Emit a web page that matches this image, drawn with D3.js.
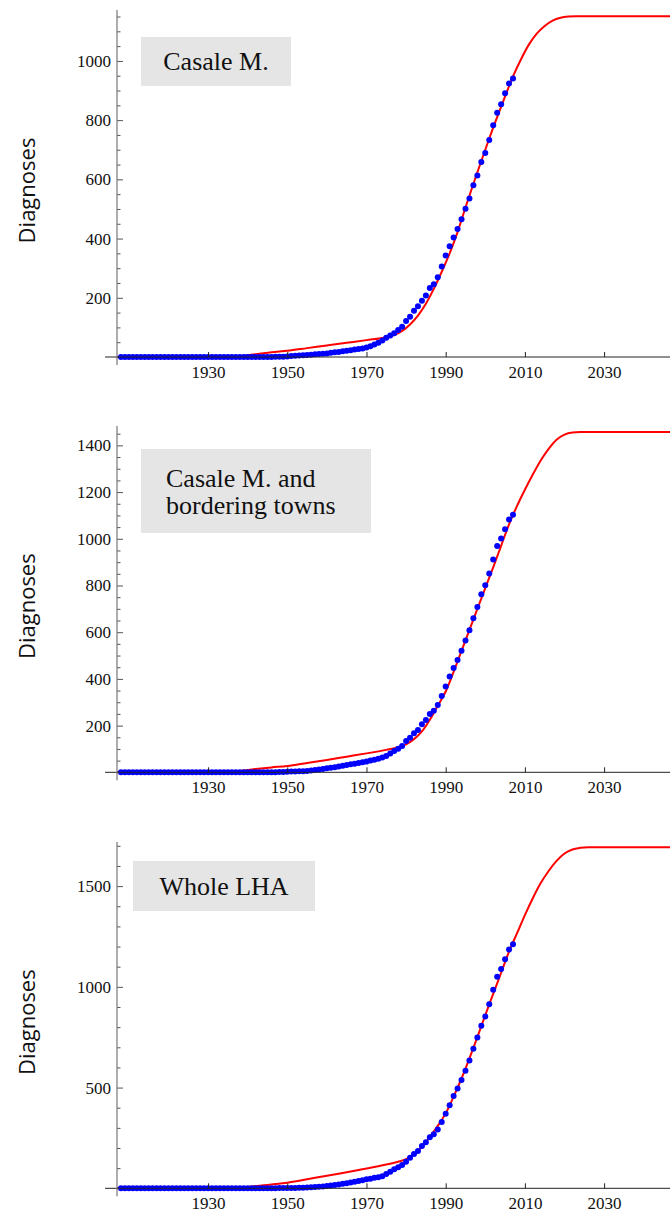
<!DOCTYPE html>
<html>
<head>
<meta charset="utf-8">
<script src="https://cdn.jsdelivr.net/npm/d3@7/dist/d3.min.js"></script>
<style>
  body { margin: 0; background: #fff; }
  svg { display: block; }
  .tick text { font-family: 'Liberation Serif', 'Times New Roman', serif; font-size: 17px; fill: #111; }
  .ylab { font-family: 'Open Sans', sans-serif; font-size: 22px; fill: #111; }
  .plabel { font-family: 'Liberation Serif', 'Times New Roman', serif; font-size: 26px; fill: #111; }
</style>
</head>
<body>
<svg id="chart" width="670" height="1216"></svg>
<script>
const width = 670;
const height = 1216;

// observation years (one dot per year)
const years = d3.range(1908, 2008);
const xTicks = [1930, 1950, 1970, 1990, 2010, 2030];

const panelNames = [
  ['Casale M.'],
  ['Casale M. and', 'bordering towns'],
  ['Whole LHA']
];

// cumulative diagnoses, 1908..2007 (20 per row)
const casaleObs = [
  0, 0, 0, 0, 0, 0, 0, 0, 0, 0, 0, 0, 0, 0, 0, 0, 0, 0, 0, 0,
  0, 0, 0, 0, 0, 0, 0, 0, 0, 0, 0, 0, 0, 0, 0, 0, 0, 0, 0, 1,
  1, 1, 2, 3, 4, 5, 6, 7, 8, 9, 10, 11, 12, 14, 16, 17, 19, 21, 23, 25,
  27, 29, 32, 36, 42, 48, 56, 65, 73, 80, 91, 102, 122, 136, 156, 171, 190, 208, 233, 246,
  269, 306, 343, 374, 404, 432, 465, 501, 535, 580, 613, 659, 689, 733, 783, 825, 854, 891, 924, 941
];
const borderingObs = [
  0, 0, 0, 0, 0, 0, 0, 0, 0, 0, 0, 0, 0, 0, 0, 0, 0, 0, 0, 0,
  0, 0, 0, 0, 0, 0, 0, 0, 0, 0, 0, 0, 0, 0, 0, 0, 0, 0, 0, 0,
  1, 1, 2, 3, 3, 4, 5, 6, 8, 10, 12, 14, 17, 19, 22, 25, 28, 31, 34, 37,
  40, 43, 46, 50, 54, 58, 63, 70, 81, 91, 101, 113, 134, 148, 167, 181, 206, 224, 250, 264,
  288, 327, 367, 410, 447, 481, 520, 564, 608, 660, 708, 763, 801, 851, 911, 969, 1001, 1041, 1083, 1103
];
const lhaObs = [
  0, 0, 0, 0, 0, 0, 0, 0, 0, 0, 0, 0, 0, 0, 0, 0, 0, 0, 0, 0,
  0, 0, 0, 0, 0, 0, 0, 0, 0, 0, 0, 0, 0, 0, 0, 0, 0, 0, 0, 0,
  1, 1, 1, 2, 2, 3, 3, 4, 5, 6, 8, 9, 11, 14, 16, 19, 22, 25, 29, 32,
  36, 40, 45, 48, 52, 55, 60, 71, 82, 94, 104, 116, 132, 152, 170, 185, 210, 228, 253, 268,
  292, 329, 370, 412, 458, 496, 537, 583, 635, 693, 749, 807, 853, 914, 985, 1050, 1088, 1137, 1185, 1212
];

// fitted model curves, [year, diagnoses]
const casaleFit = [
  [1907, 0], [1934, 0], [1937, 2], [1940, 6], [1943, 11], [1946, 16], [1950, 21], [1955, 30],
  [1960, 39], [1965, 48], [1970, 57], [1975, 67], [1977, 74], [1979, 88], [1981, 110], [1983, 140],
  [1985, 180], [1987, 230], [1989, 288], [1991, 350], [1993, 422], [1995, 505], [1997, 585],
  [1999, 662], [2001, 738], [2003, 810], [2005, 880], [2007, 948], [2009, 1005], [2011, 1055],
  [2013, 1092], [2015, 1118], [2017, 1136], [2019, 1146], [2021, 1150], [2023, 1151], [2047, 1151]
];
const borderingFit = [
  [1907, 0], [1933, 0], [1936, 3], [1939, 8], [1942, 14], [1946, 21], [1950, 27], [1955, 40],
  [1960, 53], [1965, 67], [1970, 81], [1975, 96], [1978, 107], [1980, 120], [1982, 142],
  [1984, 175], [1986, 225], [1988, 285], [1990, 346], [1992, 430], [1994, 520], [1996, 610],
  [1998, 700], [2000, 789], [2002, 878], [2004, 970], [2006, 1062], [2008, 1140], [2010, 1210],
  [2012, 1275], [2014, 1335], [2016, 1385], [2018, 1424], [2020, 1446], [2022, 1455], [2024, 1457],
  [2047, 1457]
];
const lhaFit = [
  [1907, 0], [1935, 0], [1938, 3], [1941, 9], [1944, 15], [1947, 21], [1950, 28], [1955, 45],
  [1960, 62], [1965, 80], [1970, 98], [1975, 118], [1978, 132], [1980, 145], [1982, 170],
  [1984, 205], [1986, 255], [1988, 310], [1990, 372], [1992, 455], [1994, 545], [1996, 645],
  [1998, 750], [2000, 860], [2002, 965], [2004, 1070], [2006, 1175], [2008, 1265], [2010, 1356],
  [2012, 1440], [2014, 1515], [2016, 1575], [2018, 1625], [2020, 1662], [2022, 1682], [2024, 1690],
  [2026, 1693], [2047, 1693]
];

const observed = [casaleObs, borderingObs, lhaObs];
const fitted = [casaleFit, borderingFit, lhaFit];

// layout of the three stacked panels
const panels = [
  { top: 10, base: 357, yMax: 1172, major: 200, minor: 50,
    box: [141, 37, 150, 49], text: [216, 70], anchor: 'middle' },
  { top: 426, base: 772.3, yMax: 1483, major: 200, minor: 50,
    box: [141, 449, 230, 84], text: [166, 487], anchor: 'start' },
  { top: 842, base: 1188.3, yMax: 1719, major: 500, minor: 100,
    box: [133, 861, 182, 50], text: [224, 895], anchor: 'middle' }
];

const svg = d3.select('#chart');

const x = d3.scaleLinear().domain([1907, 2047]).range([117, 117 + 140 * 3.96]);

panels.forEach((p, i) => {
  const y = d3.scaleLinear().domain([0, p.yMax]).range([p.base, p.top]);
  const g = svg.append('g');

  // label box
  g.append('rect')
    .attr('x', p.box[0]).attr('y', p.box[1])
    .attr('width', p.box[2]).attr('height', p.box[3])
    .attr('fill', '#e5e5e5');
  const t = g.append('text')
    .attr('class', 'plabel')
    .attr('x', p.text[0]).attr('y', p.text[1])
    .attr('text-anchor', p.anchor);
  panelNames[i].forEach((line, j) => {
    t.append('tspan').attr('x', p.text[0]).attr('dy', j ? 26.5 : 0).text(line);
  });

  // y title
  g.append('text')
    .attr('class', 'ylab')
    .attr('transform', `translate(35,${(p.top + p.base) / 2 + 7}) rotate(-90)`)
    .attr('text-anchor', 'middle')
    .text('Diagnoses');

  // model curve
  g.append('path')
    .datum(fitted[i])
    .attr('fill', 'none')
    .attr('stroke', '#ff0000')
    .attr('stroke-width', 2)
    .attr('d', d3.line()
      .x(d => x(d[0]))
      .y(d => y(d[1]))
      .curve(d3.curveMonotoneX));

  // observations
  g.append('g')
    .selectAll('circle')
    .data(observed[i])
    .enter().append('circle')
    .attr('cx', (d, k) => x(years[k]))
    .attr('cy', d => y(d))
    .attr('r', 3)
    .attr('fill', '#0000ff');

  // axes
  const minorTicks = d3.range(p.minor, p.yMax, p.minor).filter(v => v % p.major !== 0);
  const majorTicks = d3.range(p.major, p.yMax, p.major);

  const yMinor = g.append('g')
    .attr('transform', 'translate(117,0)')
    .call(d3.axisLeft(y).tickValues(minorTicks).tickSize(-3.5).tickFormat(''));
  const yMajor = g.append('g')
    .attr('transform', 'translate(117,0)')
    .call(d3.axisLeft(y).tickValues(majorTicks).tickSize(-6).tickPadding(6).tickFormat(d3.format('d')));
  [yMinor, yMajor].forEach(a => {
    a.select('.domain').remove();
    a.selectAll('line').attr('stroke', '#555');
  });

  const xAx = g.append('g')
    .attr('transform', `translate(0,${p.base})`)
    .call(d3.axisBottom(x).tickValues(xTicks).tickSize(-5).tickPadding(9).tickFormat(d3.format('d')));
  xAx.select('.domain').remove();
  xAx.selectAll('line').attr('stroke', '#222');

  g.append('line')
    .attr('x1', 105).attr('x2', width)
    .attr('y1', p.base).attr('y2', p.base)
    .attr('stroke', '#222').attr('stroke-width', 1);
  g.append('line')
    .attr('x1', 117).attr('x2', 117)
    .attr('y1', p.top).attr('y2', p.base + 8)
    .attr('stroke', '#777').attr('stroke-width', 1.2);
});
</script>
</body>
</html>
